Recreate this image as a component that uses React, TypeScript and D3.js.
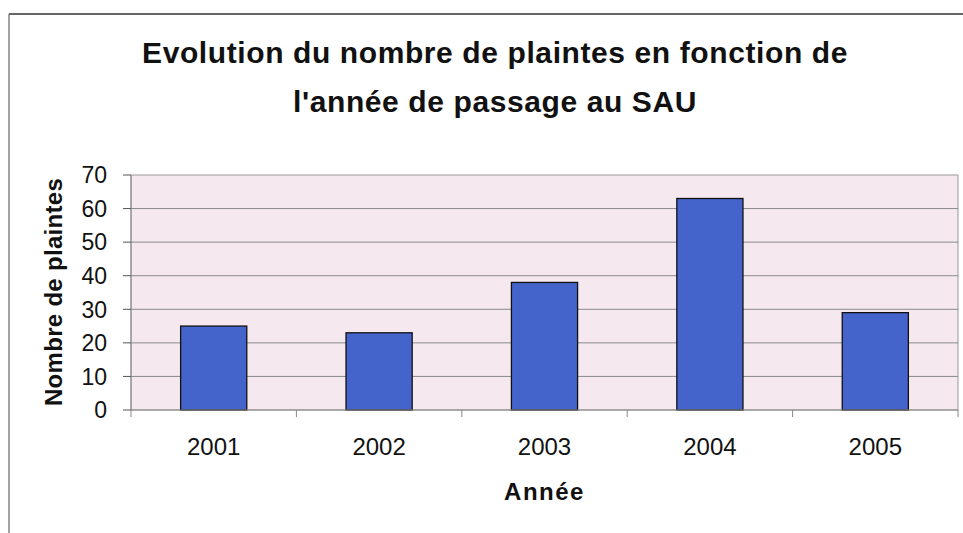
import React from "react";
import * as d3 from "d3";

const categories = ["2001", "2002", "2003", "2004", "2005"];
const values = [25, 23, 38, 63, 29];
const yTicks = [0, 10, 20, 30, 40, 50, 60, 70];
const titleLines = ["Evolution du nombre de plaintes en fonction de", "l'année de passage au SAU"];

export default function App() {
  const W = 963, H = 533;
  const left = 131, right = 958, top = 175, bottom = 410;
  const x = d3.scaleBand().domain(categories).range([left, right]).paddingInner(0.6).paddingOuter(0.3);
  const xb = d3.scaleBand().domain(categories).range([left, right]);
  const y = d3.scaleLinear().domain([0, 70]).range([bottom, top]);
  const font = "Arial, 'Liberation Sans', sans-serif";
  const cx = (left + right) / 2;
  return (
    <svg width={W} height={H} style={{ position: "absolute", left: 0, top: 0 }} fontFamily={font}>
      <rect x={0} y={0} width={W} height={H} fill="#ffffff" />
      <line x1={9} y1={14} x2={W} y2={14} stroke="#333" strokeWidth={1.5} />
      <line x1={9} y1={14} x2={9} y2={H} stroke="#666" strokeWidth={1.2} />
      {titleLines.map((t, i) => (
        <text key={i} x={495} y={63 + i * 49} textAnchor="middle" fontSize={30} fontWeight="bold" letterSpacing={0.6} fill="#111">{t}</text>
      ))}
      <rect x={left} y={top} width={right - left} height={bottom - top} fill="#f6e8ef" stroke="#999" strokeWidth={1} />
      {yTicks.filter(v => v > 0 && v < 70).map(v => (
        <line key={v} x1={left} x2={right} y1={y(v)} y2={y(v)} stroke="#8a8a8a" strokeWidth={1} />
      ))}
      {categories.map((c, i) => (
        <rect key={c} x={x(c)} y={y(values[i])} width={x.bandwidth()} height={bottom - y(values[i])} fill="#4464cc" stroke="#111" strokeWidth={1.3} />
      ))}
      <line x1={left} x2={left} y1={top} y2={bottom} stroke="#888" strokeWidth={1} />
      <line x1={left} x2={right} y1={bottom} y2={bottom} stroke="#888" strokeWidth={1} />
      {yTicks.map(v => (
        <g key={v}>
          <line x1={left - 8} x2={left} y1={y(v)} y2={y(v)} stroke="#555" strokeWidth={1} />
          <text x={left - 24} y={y(v)} dy="0.36em" textAnchor="end" fontSize={23} fill="#111">{v}</text>
        </g>
      ))}
      {categories.map(c => (
        <line key={"t" + c} x1={xb(c)} x2={xb(c)} y1={bottom} y2={bottom + 7} stroke="#888" strokeWidth={1} />
      ))}
      <line x1={right} x2={right} y1={bottom} y2={bottom + 7} stroke="#888" strokeWidth={1} />
      {categories.map(c => (
        <text key={"l" + c} x={(xb(c) as number) + xb.bandwidth() / 2} y={455} textAnchor="middle" fontSize={24} fill="#111">{c}</text>
      ))}
      <text x={cx} y={500} textAnchor="middle" fontSize={24} fontWeight="bold" letterSpacing={1.5} fill="#111">Année</text>
      <text transform={`translate(62,${292}) rotate(-90)`} textAnchor="middle" fontSize={24} fontWeight="bold" letterSpacing={0.3} fill="#111">Nombre de plaintes</text>
    </svg>
  );
}
